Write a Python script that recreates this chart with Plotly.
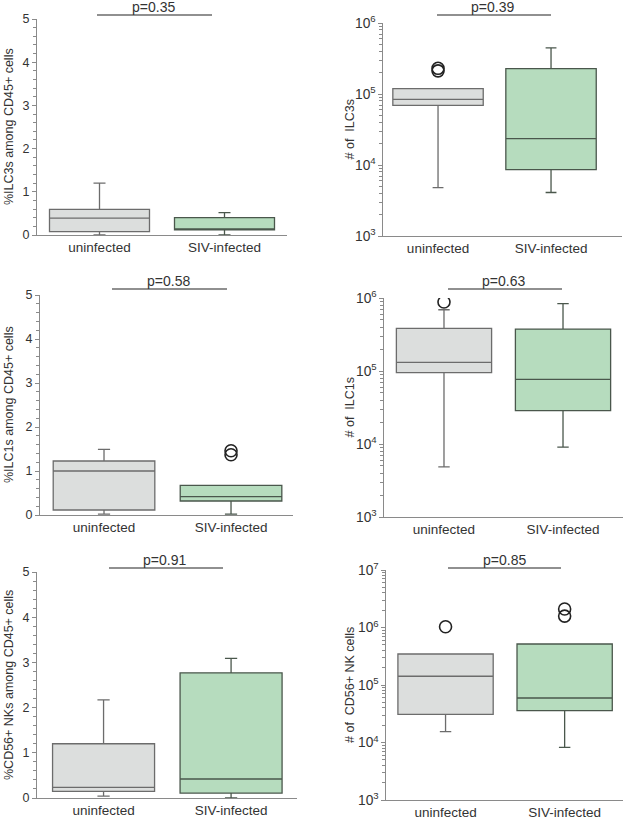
import plotly.graph_objects as go

W, H = 625, 819

groups = ["uninfected", "SIV-infected"]

# Panel data: [uninfected, SIV-infected]
ilc3_pct_q1 = [0.077, 0.12]
ilc3_pct_med = [0.39, 0.13]
ilc3_pct_q3 = [0.595, 0.40]
ilc3_pct_lo = [0.0, 0.0]
ilc3_pct_hi = [1.2, 0.52]
ilc3_pct_out = [[], []]

ilc3_n_q1 = [6.9e4, 8.6e3]
ilc3_n_med = [8.4e4, 2.35e4]
ilc3_n_q3 = [1.19e5, 2.27e5]
ilc3_n_lo = [4.8e3, 4.1e3]
ilc3_n_hi = [1.19e5, 4.45e5]
ilc3_n_out = [[2.12e5, 2.3e5], []]

ilc1_pct_q1 = [0.114, 0.318]
ilc1_pct_med = [1.0, 0.417]
ilc1_pct_q3 = [1.227, 0.674]
ilc1_pct_lo = [0.02, 0.02]
ilc1_pct_hi = [1.49, 0.674]
ilc1_pct_out = [[], [1.37, 1.46]]

ilc1_n_q1 = [9.5e4, 2.86e4]
ilc1_n_med = [1.31e5, 7.7e4]
ilc1_n_q3 = [3.83e5, 3.75e5]
ilc1_n_lo = [4.86e3, 9.06e3]
ilc1_n_hi = [6.9e5, 8.36e5]
ilc1_n_out = [[8.8e5], []]

nk_pct_q1 = [0.147, 0.11]
nk_pct_med = [0.235, 0.42]
nk_pct_q3 = [1.2, 2.77]
nk_pct_lo = [0.04, 0.0]
nk_pct_hi = [2.17, 3.09]
nk_pct_out = [[], []]

nk_n_q1 = [3.09e4, 3.58e4]
nk_n_med = [1.42e5, 5.94e4]
nk_n_q3 = [3.46e5, 5.16e5]
nk_n_lo = [1.54e4, 8.2e3]
nk_n_hi = [3.46e5, 5.16e5]
nk_n_out = [[1.03e6], [1.58e6, 2.1e6]]

p_values = ["p=0.35", "p=0.39", "p=0.58", "p=0.63", "p=0.91", "p=0.85"]
y_titles = ["%ILC3s among CD45+ cells", "# of  ILC3s",
            "%ILC1s among CD45+ cells", "# of  ILC1s",
            "%CD56+ NKs among CD45+ cells", "# of  CD56+ NK cells"]

panels = [
    (ilc3_pct_q1, ilc3_pct_med, ilc3_pct_q3, ilc3_pct_lo, ilc3_pct_hi, ilc3_pct_out),
    (ilc3_n_q1, ilc3_n_med, ilc3_n_q3, ilc3_n_lo, ilc3_n_hi, ilc3_n_out),
    (ilc1_pct_q1, ilc1_pct_med, ilc1_pct_q3, ilc1_pct_lo, ilc1_pct_hi, ilc1_pct_out),
    (ilc1_n_q1, ilc1_n_med, ilc1_n_q3, ilc1_n_lo, ilc1_n_hi, ilc1_n_out),
    (nk_pct_q1, nk_pct_med, nk_pct_q3, nk_pct_lo, nk_pct_hi, nk_pct_out),
    (nk_n_q1, nk_n_med, nk_n_q3, nk_n_lo, nk_n_hi, nk_n_out),
]

# layout specs (pixels)
specs = [
    dict(xpx=(37, 287), ypx=(19, 235), xr=[-0.5, 1.5], log=False, yr=[0, 5],
         pline=(97, 212, 15), ptx=153, ttl_x=9),
    dict(xpx=(383, 622), ypx=(23, 236), xr=[-0.487, 1.628], log=True, yr=[3, 6],
         pline=(437, 551, 15), ptx=492, ttl_x=349),
    dict(xpx=(40, 293), ypx=(295, 515), xr=[-0.504, 1.488], log=False, yr=[0, 5],
         pline=(112, 227, 289), ptx=168, ttl_x=9),
    dict(xpx=(384, 623), ypx=(298, 517), xr=[-0.504, 1.504], log=True, yr=[3, 6],
         pline=(448, 562, 289), ptx=503, ttl_x=349),
    dict(xpx=(37, 297), ypx=(572, 798), xr=[-0.522, 1.517], log=False, yr=[0, 5],
         pline=(109, 223, 568), ptx=164, ttl_x=9),
    dict(xpx=(386, 623), ypx=(570, 800), xr=[-0.5, 1.49], log=True, yr=[3, 7],
         pline=(448, 561, 568), ptx=504, ttl_x=350),
]

fill_colors = ["#dcdedd", "#b6dcbe"]
line_colors = ["#6c6c6c", "#4a574c"]
FONT = "Liberation Sans, Arial, sans-serif"
TXT = "#333333"
AX = "#8a8a8a"


def px(x):
    return x / W


def py(y):
    return 1 - y / H


fig = go.Figure()
layout = dict(template="none", width=W, height=H, autosize=False,
              margin=dict(l=0, r=0, t=0, b=0, pad=0),
              paper_bgcolor="white", plot_bgcolor="white", showlegend=False,
              font=dict(family=FONT, color=TXT, size=12))
shapes = []
annotations = []

for i, (data, sp) in enumerate(zip(panels, specs)):
    n = i + 1
    xa = "x" if n == 1 else f"x{n}"
    ya = "y" if n == 1 else f"y{n}"
    q1, med, q3, lo, hi, outs = data
    for g in range(2):
        fig.add_trace(go.Box(
            x=[groups[g]], q1=[q1[g]], median=[med[g]], q3=[q3[g]],
            lowerfence=[lo[g]], upperfence=[hi[g]],
            width=0.8, whiskerwidth=0.12, boxpoints=False,
            fillcolor=fill_colors[g], line=dict(color=line_colors[g], width=1.3),
            xaxis=xa, yaxis=ya, hoverinfo="skip"))
        if outs[g]:
            fig.add_trace(go.Scatter(
                x=[groups[g]] * len(outs[g]), y=outs[g], mode="markers",
                marker=dict(symbol="circle-open", size=12, color="#222222",
                            line=dict(width=1.6)),
                xaxis=xa, yaxis=ya, hoverinfo="skip"))
    xkey = "xaxis" if n == 1 else f"xaxis{n}"
    ykey = "yaxis" if n == 1 else f"yaxis{n}"
    layout[xkey] = dict(
        domain=[px(sp["xpx"][0]), px(sp["xpx"][1])], anchor=ya,
        type="category", categoryorder="array", categoryarray=groups,
        range=sp["xr"], autorange=False, automargin=False,
        showline=True, linecolor=AX, linewidth=1.2,
        ticks="", showgrid=False, zeroline=False,
        tickfont=dict(size=13.5, color=TXT, family=FONT))
    yax = dict(
        domain=[py(sp["ypx"][1]), py(sp["ypx"][0])], anchor=xa,
        range=sp["yr"], autorange=False, automargin=False,
        showline=True, linecolor=AX, linewidth=1.2,
        ticks="outside", ticklen=4, tickcolor=AX, showgrid=False, zeroline=False,
        tickfont=dict(size=12.5, color=TXT, family=FONT))
    if sp["log"]:
        yax.update(type="log", dtick=1, exponentformat="power",
                   tickfont=dict(size=11, color=TXT, family=FONT),
                   minor=dict(ticks="outside", ticklen=2.5, tickcolor=AX,
                              dtick="D1", showgrid=False))
    else:
        yax.update(dtick=1, minor=dict(ticks="outside", ticklen=2.5, tickcolor=AX,
                                       dtick=0.2, showgrid=False))
    layout[ykey] = yax

    x0, x1, yl = sp["pline"]
    shapes.append(dict(type="line", xref="paper", yref="paper",
                       x0=px(x0), x1=px(x1), y0=py(yl), y1=py(yl),
                       line=dict(color="#222222", width=1.2)))
    annotations.append(dict(text=p_values[i], xref="paper", yref="paper",
                            x=px(sp["ptx"]), y=py(yl - 8), xanchor="center",
                            yanchor="middle", showarrow=False,
                            font=dict(size=14, color=TXT, family=FONT)))
    annotations.append(dict(text=y_titles[i], xref="paper", yref="paper",
                            x=px(sp["ttl_x"]), y=py((sp["ypx"][0] + sp["ypx"][1]) / 2),
                            xanchor="center", yanchor="middle", textangle=-90,
                            showarrow=False,
                            font=dict(size=12.5, color=TXT, family=FONT)))

layout["shapes"] = shapes
layout["annotations"] = annotations
fig.update_layout(**layout)
fig.write_html("out.html", config={"displayModeBar": False},
               post_script="document.body.style.margin='0';document.body.style.overflow='hidden';")
